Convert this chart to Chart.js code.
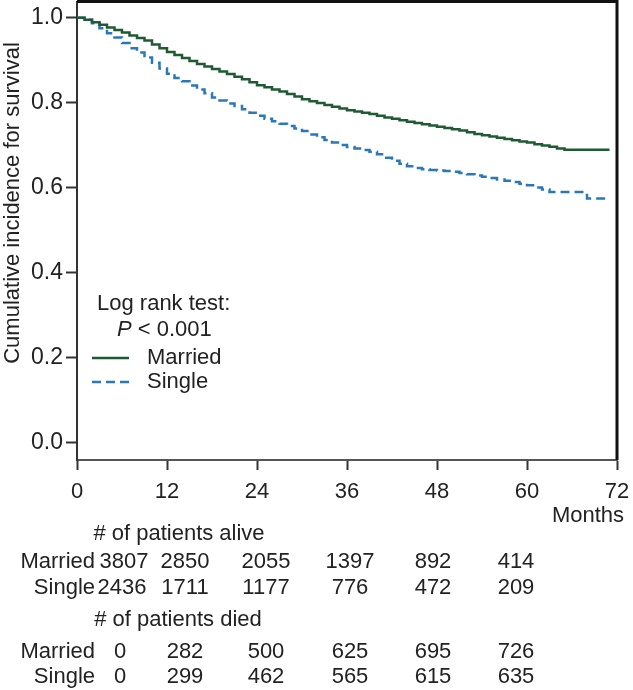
<!DOCTYPE html>
<html>
<head>
<meta charset="utf-8">
<script src="https://cdn.jsdelivr.net/npm/chart.js@4.4.1/dist/chart.umd.min.js"></script>
<style>
  html, body { margin: 0; padding: 0; background: #ffffff; }
  #wrap { position: relative; width: 633px; height: 690px; }
</style>
</head>
<body>
<div id="wrap"><canvas id="chart" width="633" height="690"></canvas></div>
<script>
// ---------------- data ----------------
const seriesNames = ["Married", "Single"];

const marriedMonths = [0,1,2,3,4,5,6,7,8,9,10,11,12,13,14,15,16,17,18,19,20,21,22,23,24,25,26,27,28,29,30,31,32,33,34,35,36,37,38,39,40,41,42,43,44,45,46,47,48,49,50,51,52,53,54,55,56,57,58,59,60,61,62,63,64,65,71];
const marriedSurvival = [1.000,0.995,0.989,0.983,0.977,0.971,0.965,0.958,0.952,0.946,0.937,0.928,0.919,0.912,0.905,0.898,0.891,0.885,0.879,0.873,0.867,0.861,0.855,0.848,0.841,0.836,0.831,0.826,0.820,0.814,0.808,0.803,0.799,0.794,0.790,0.786,0.782,0.779,0.776,0.773,0.769,0.765,0.762,0.758,0.755,0.752,0.749,0.746,0.743,0.740,0.737,0.734,0.730,0.726,0.723,0.720,0.717,0.714,0.711,0.708,0.706,0.702,0.699,0.696,0.692,0.689,0.689];

const singleMonths = [0,1,2,3,4,5,6,7,8,9,10,11,12,13,14,15,16,17,18,19,20,21,22,23,24,25,26,27,28,29,30,31,32,33,34,35,36,37,38,39,40,41,42,43,44,45,46,47,48,49,50,51,52,53,54,55,56,57,58,59,60,61,62,63,68,71];
const singleSurvival = [1.000,0.995,0.987,0.975,0.963,0.953,0.940,0.928,0.918,0.906,0.894,0.880,0.868,0.858,0.850,0.840,0.831,0.822,0.812,0.805,0.798,0.792,0.784,0.776,0.769,0.762,0.756,0.750,0.745,0.739,0.733,0.725,0.718,0.712,0.706,0.700,0.695,0.692,0.688,0.684,0.678,0.670,0.663,0.656,0.650,0.646,0.643,0.641,0.640,0.639,0.637,0.634,0.631,0.628,0.625,0.622,0.619,0.616,0.613,0.609,0.605,0.600,0.595,0.589,0.574,0.574];

const xTickValues = [0, 12, 24, 36, 48, 60, 72];
const yTickValues = [0.0, 0.2, 0.4, 0.6, 0.8, 1.0];

const yAxisTitle = "Cumulative incidence for survival";
const xAxisTitle = "Months";
const testLabel = "Log rank test:";
const pValueLabel = "< 0.001";

const tableMonths = [0, 12, 24, 36, 48, 60];
const aliveHeader = "# of patients alive";
const diedHeader = "# of patients died";
const marriedAlive = [3807, 2850, 2055, 1397, 892, 414];
const singleAlive = [2436, 1711, 1177, 776, 472, 209];
const marriedDied = [0, 282, 500, 625, 695, 726];
const singleDied = [0, 299, 462, 565, 615, 635];

// ---------------- styles ----------------
const FONT = '"Liberation Sans", Arial, Helvetica, sans-serif';
const TEXT = '#222222';
const GREEN = '#1f5a35';
const BLUE = '#2a78b8';

function toPoints(xs, ys) { return xs.map((x, i) => ({ x: x, y: ys[i] })); }

const decorPlugin = {
  id: 'decor',
  afterDraw(chart) {
    const ctx = chart.ctx;
    const a = chart.chartArea;
    ctx.save();
    // top + right frame
    ctx.strokeStyle = '#111111';
    ctx.lineWidth = 3;
    ctx.beginPath();
    ctx.moveTo(a.left, a.top);
    ctx.lineTo(a.right, a.top);
    ctx.lineTo(a.right, a.bottom);
    ctx.stroke();

    ctx.fillStyle = TEXT;
    // y axis title
    ctx.save();
    ctx.translate(13, 203);
    ctx.rotate(-Math.PI / 2);
    ctx.font = '22px ' + FONT;
    ctx.textAlign = 'center';
    ctx.textBaseline = 'middle';
    ctx.fillText(yAxisTitle, 0, 0);
    ctx.restore();

    // x axis title
    ctx.font = '22px ' + FONT;
    ctx.textAlign = 'center';
    ctx.textBaseline = 'middle';
    ctx.fillText(xAxisTitle, 588, 516);

    // legend
    ctx.textAlign = 'left';
    ctx.fillText(testLabel, 97, 304);
    ctx.font = 'italic 22px ' + FONT;
    ctx.fillText('P', 117, 330);
    const pw = ctx.measureText('P').width;
    ctx.font = '22px ' + FONT;
    ctx.fillText(' ' + pValueLabel, 117 + pw, 330);

    const ds = chart.data.datasets;
    const legendY = [358, 382];
    ds.forEach((d, i) => {
      ctx.save();
      ctx.strokeStyle = d.borderColor;
      ctx.lineWidth = 2.5;
      ctx.setLineDash(d.borderDash || []);
      ctx.beginPath();
      ctx.moveTo(92, legendY[i]);
      ctx.lineTo(129, legendY[i]);
      ctx.stroke();
      ctx.restore();
      ctx.fillText(d.label, 147, legendY[i]);
    });

    // risk table
    const colX = [124, 185, 266, 350, 433, 516];
    ctx.textAlign = 'center';
    ctx.fillText(aliveHeader, 179, 534);
    ctx.fillText(diedHeader, 178, 620);
    const rows = [
      { label: seriesNames[0], vals: marriedAlive, y: 562, first: 124 },
      { label: seriesNames[1], vals: singleAlive, y: 588, first: 122 },
      { label: seriesNames[0], vals: marriedDied, y: 652, first: 120 },
      { label: seriesNames[1], vals: singleDied, y: 677, first: 120 }
    ];
    rows.forEach(r => {
      ctx.textAlign = 'right';
      ctx.fillText(r.label, 95, r.y);
      ctx.textAlign = 'center';
      r.vals.forEach((v, j) => {
        ctx.fillText(String(v), j === 0 ? r.first : colX[j], r.y);
      });
    });
    ctx.restore();
  }
};

new Chart(document.getElementById('chart'), {
  type: 'line',
  data: {
    datasets: [
      {
        label: seriesNames[0],
        data: toPoints(marriedMonths, marriedSurvival),
        borderColor: GREEN,
        borderWidth: 2.5,
        stepped: 'before',
        pointRadius: 0,
        fill: false
      },
      {
        label: seriesNames[1],
        data: toPoints(singleMonths, singleSurvival),
        borderColor: BLUE,
        borderWidth: 2.5,
        borderDash: [9, 5],
        stepped: 'before',
        pointRadius: 0,
        fill: false
      }
    ]
  },
  options: {
    responsive: false,
    animation: false,
    devicePixelRatio: 1,
    layout: { padding: { top: 1.5, right: 16, left: 0, bottom: 0 } },
    plugins: { legend: { display: false }, tooltip: { enabled: false }, title: { display: false } },
    scales: {
      x: {
        type: 'linear',
        position: 'bottom',
        min: 0,
        max: 72,
        afterBuildTicks: s => { s.ticks = xTickValues.map(v => ({ value: v })); },
        afterFit: s => { s.height = 230; s.paddingLeft = 0; s.paddingRight = 0; },
        ticks: {
          autoSkip: false, maxRotation: 0, padding: 9,
          color: TEXT, font: { family: FONT, size: 22 },
          callback: v => String(v)
        },
        grid: { drawOnChartArea: false, drawTicks: true, tickLength: 10, tickColor: '#333333', tickWidth: 2 },
        border: { display: true, color: '#555555', width: 2 }
      },
      y: {
        type: 'linear',
        position: 'left',
        min: -0.042,
        max: 1.038,
        afterBuildTicks: s => { s.ticks = yTickValues.map(v => ({ value: v })); },
        afterFit: s => { s.width = 77; s.paddingTop = 0; s.paddingBottom = 0; },
        ticks: {
          autoSkip: false, padding: 3,
          color: TEXT, font: { family: FONT, size: 23 },
          callback: v => Number(v).toFixed(1)
        },
        grid: { drawOnChartArea: false, drawTicks: true, tickLength: 11, tickColor: '#333333', tickWidth: 2 },
        border: { display: true, color: '#333333', width: 2 }
      }
    }
  },
  plugins: [decorPlugin]
});
</script>
</body>
</html>
